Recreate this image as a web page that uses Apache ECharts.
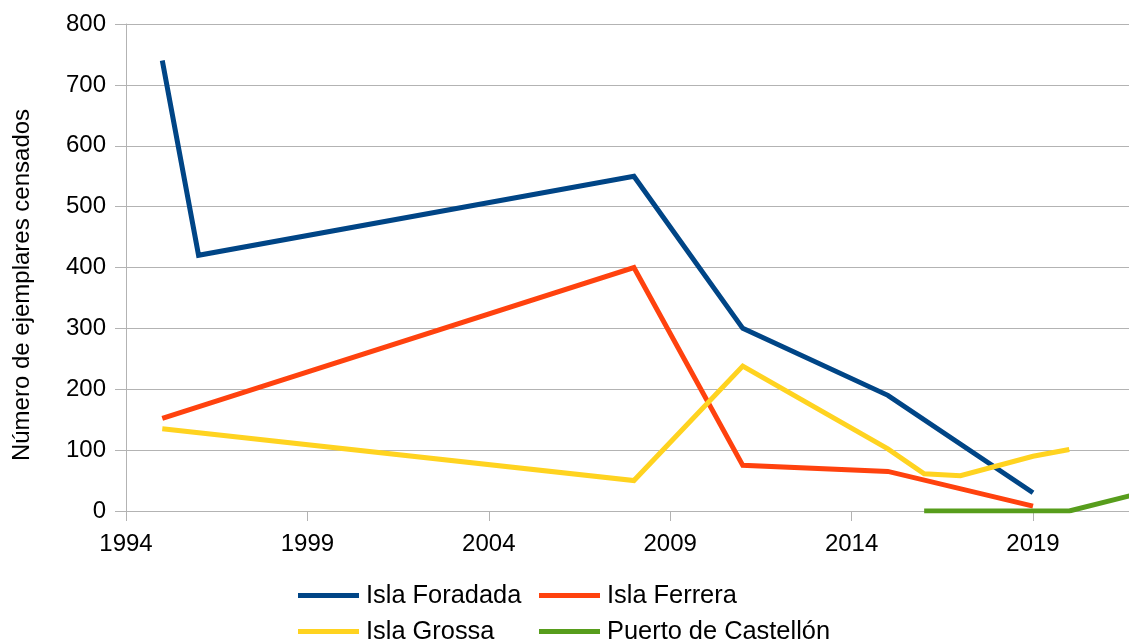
<!DOCTYPE html>
<html>
<head>
<meta charset="utf-8">
<script src="https://cdn.jsdelivr.net/npm/echarts@6/dist/echarts.min.js"></script>
<style>
html,body{margin:0;padding:0;background:#fff;}
#chart{width:1129px;height:642px;}
</style>
</head>
<body>
<div id="chart"></div>
<script>
// Data
const foradadaYears = [1995, 1996, 2008, 2011, 2015, 2019];
const foradadaValues = [740, 420, 550, 300, 190, 30];

const ferreraYears = [1995, 2008, 2011, 2015, 2019];
const ferreraValues = [152, 400, 75, 65, 8];

const grossaYears = [1995, 2008, 2011, 2015, 2016, 2017, 2019, 2020];
const grossaValues = [135, 50, 238, 102, 61, 58, 90, 101];

const castellonYears = [2016, 2018, 2019, 2020, 2022];
const castellonValues = [0, 0, 0, 0, 30];

const yAxisTitle = 'Número de ejemplares censados';
const seriesNames = ['Isla Foradada', 'Isla Ferrera', 'Isla Grossa', 'Puerto de Castellón'];
const seriesColors = ['#004586', '#ff420e', '#ffd320', '#579d1c'];

function pairs(xs, ys) { return xs.map((x, i) => [x, ys[i]]); }

const seriesData = [
  pairs(foradadaYears, foradadaValues),
  pairs(ferreraYears, ferreraValues),
  pairs(grossaYears, grossaValues),
  pairs(castellonYears, castellonValues)
];

const FONT = '"Liberation Sans", Arial, sans-serif';
const chart = echarts.init(document.getElementById('chart'), null, {renderer: 'canvas'});

// legend placement: 2 columns x 2 rows
const legendPos = [[293, 578], [534, 578], [293, 614], [534, 614]];

function makeLegend(name, pos) {
  return {
    orient: 'horizontal',
    left: pos[0],
    top: pos[1],
    height: 40,
    icon: 'rect',
    itemWidth: 61,
    itemHeight: 5,
    selectedMode: false,
    data: [name],
    textStyle: {fontSize: 25.4, fontFamily: FONT, color: '#000', padding: [0, 0, 0, 2]}
  };
}

chart.setOption({
  animation: false,
  backgroundColor: '#fff',
  grid: {left: 126, top: 24, height: 487, width: 1088.4, containLabel: false, outerBoundsMode: 'none'},
  legend: seriesNames.map((n, i) => makeLegend(n, legendPos[i])),
  xAxis: {
    type: 'value',
    min: 1994,
    max: 2024,
    interval: 5,
    splitLine: {show: false},
    axisLine: {show: true, lineStyle: {color: '#b3b3b3', width: 1}},
    axisTick: {show: true, length: 10, lineStyle: {color: '#b3b3b3'}},
    axisLabel: {fontSize: 24, fontFamily: FONT, color: '#000', margin: 21,
      formatter: v => String(v)}
  },
  yAxis: {
    type: 'value',
    min: 0,
    max: 800,
    interval: 100,
    name: yAxisTitle,
    nameLocation: 'middle',
    nameGap: 92,
    nameTextStyle: {fontSize: 24, fontFamily: FONT, color: '#000', padding: [0, 35, 0, 0]},
    axisLine: {show: true, lineStyle: {color: '#b3b3b3', width: 1}},
    axisTick: {show: true, length: 11, lineStyle: {color: '#b3b3b3'}},
    splitLine: {show: true, lineStyle: {color: '#b3b3b3', width: 1}},
    axisLabel: {fontSize: 24, fontFamily: FONT, color: '#000', margin: 20,
      formatter: v => String(v)}
  },
  series: seriesNames.map((name, i) => ({
    name: name,
    type: 'line',
    data: seriesData[i],
    showSymbol: false,
    symbol: 'none',
    color: seriesColors[i],
    lineStyle: {width: 5, color: seriesColors[i], cap: 'butt', join: 'miter'},
    emphasis: {disabled: true},
    clip: true
  }))
});
</script>
</body>
</html>
